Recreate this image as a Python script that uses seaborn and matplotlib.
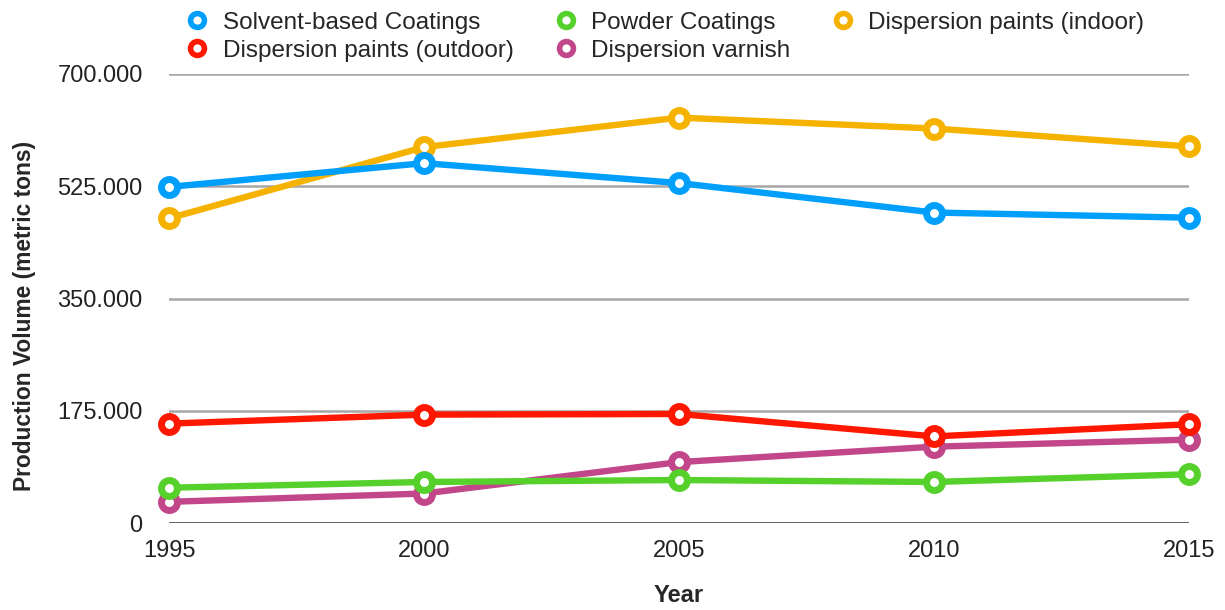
import matplotlib
matplotlib.use("Agg")
import matplotlib.pyplot as plt
from matplotlib.lines import Line2D
from matplotlib.ticker import FuncFormatter
import seaborn as sns
import pandas as pd

# Production volume of coatings and paints, metric tons
years = [1995, 2000, 2005, 2010, 2015]
solvent_based = [524000, 561000, 530000, 484000, 476000]
dispersion_outdoor = [155000, 169000, 170000, 135000, 154000]
powder = [55000, 64000, 67000, 64000, 76000]
dispersion_varnish = [33000, 46000, 95000, 119000, 130000]
dispersion_indoor = [475000, 586000, 632000, 615000, 587000]

series_names = [
    "Solvent-based Coatings",
    "Dispersion paints (outdoor)",
    "Powder Coatings",
    "Dispersion varnish",
    "Dispersion paints (indoor)",
]
series_values = [solvent_based, dispersion_outdoor, powder, dispersion_varnish, dispersion_indoor]
series_colors = ["#009ffc", "#ff1800", "#56d12c", "#c2478a", "#f5b300"]
y_ticks = [0, 175000, 350000, 525000, 700000]

sns.set_style("white")
plt.rcParams["font.family"] = ["Liberation Sans", "DejaVu Sans"]

fig = plt.figure(figsize=(12.25, 6.1), dpi=100)
ax = fig.add_axes([0.138, 0.1426, 0.8326, 0.7361])

frames = []
for name, vals in zip(series_names, series_values):
    frames.append(pd.DataFrame({"Year": years, "Volume": vals, "Series": name}))
df = pd.concat(frames, ignore_index=True)

# first series listed sits on top
n = len(series_names)
for i, (name, color) in enumerate(zip(series_names, series_colors)):
    sub = df[df["Series"] == name]
    sns.lineplot(data=sub, x="Year", y="Volume", ax=ax, color=color,
                 linewidth=4.6, marker="o", markersize=11.5,
                 markerfacecolor="white", markeredgecolor=color,
                 markeredgewidth=5.0, zorder=10 + (n - i), clip_on=False,
                 legend=False)

ax.set_xlim(1995, 2015)
ax.set_ylim(0, 700000)
ax.set_xticks(years)
ax.set_yticks(y_ticks)
ax.yaxis.set_major_formatter(FuncFormatter(lambda v, p: "0" if v == 0 else f"{int(v):,}".replace(",", ".")))

for v in y_ticks[1:]:
    ax.axhline(v, color="#a6a6a6", linewidth=1.8, zorder=1)
ax.axhline(0, color="#333333", linewidth=1.8, zorder=2)

for s in ax.spines.values():
    s.set_visible(False)
ax.tick_params(axis="both", length=0, labelsize=17, colors="#222222")
ax.tick_params(axis="y", pad=19)
ax.tick_params(axis="x", pad=12)

ax.set_xlabel("Year", fontsize=17, fontweight="bold", labelpad=16)
ax.set_ylabel("Production Volume (metric tons)", fontsize=16.4, fontweight="bold")
ax.yaxis.set_label_coords(-0.130, 0.461)

handles = [Line2D([], [], linestyle="none", marker="o", markersize=10,
                  markerfacecolor="white", markeredgecolor=c, markeredgewidth=4.0)
           for c in series_colors]
fig.legend(handles, series_names, loc="upper left", bbox_to_anchor=(0.151, 0.981),
           ncol=3, frameon=False, fontsize=17.5, handlelength=1.0, handletextpad=0.55,
           columnspacing=1.65, labelspacing=0.25, borderaxespad=0.0, borderpad=0.0)

fig.savefig("out.png", dpi=100)
